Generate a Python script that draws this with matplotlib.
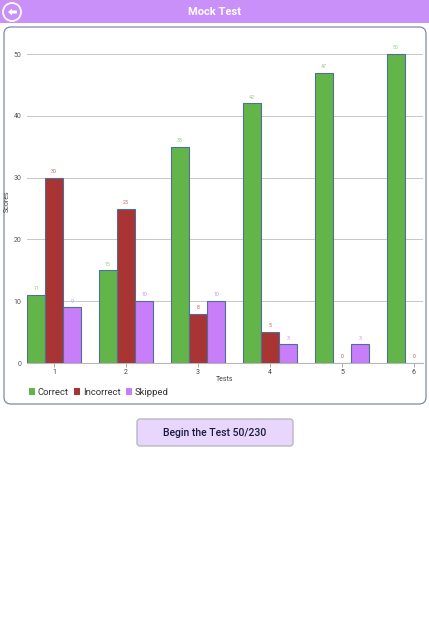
import matplotlib
matplotlib.use("Agg")
import matplotlib.pyplot as plt
from matplotlib.patches import FancyBboxPatch, Rectangle, Circle, FancyArrow
import numpy as np

plt.rcParams['font.family'] = ['Roboto', 'DejaVu Sans']

tests = ["1", "2", "3", "4", "5", "6"]
correct = [11, 15, 35, 42, 47, 50]
incorrect = [30, 25, 8, 5, 0, 0]
skipped = [9, 10, 10, 3, 3, 0]
series_names = ["Correct", "Incorrect", "Skipped"]
yticks = [0, 10, 20, 30, 40, 50]
title = "Mock Test"
button_text = "Begin the Test 50/230"

W, H = 429, 640
fig = plt.figure(figsize=(W / 100, H / 100), dpi=100)
fig.patch.set_facecolor("white")

ui = fig.add_axes([0, 0, 1, 1], zorder=0)
ui.set_xlim(0, W)
ui.set_ylim(H, 0)
ui.axis("off")

# header
ui.add_patch(Rectangle((0, 0), W, 23, facecolor="#c890f8", edgecolor="none"))
ui.text(W / 2, 12, title, color="white", fontsize=8, fontweight="bold",
        ha="center", va="center")
ui.add_patch(Circle((12, 12), 9, facecolor="none", edgecolor="white", lw=1.3))
ui.add_patch(FancyArrow(17, 12, -9, 0, width=3.0, head_width=7, head_length=4,
                        length_includes_head=True, facecolor="white", edgecolor="none"))

# card
ui.add_patch(FancyBboxPatch((4, 27), 422, 377, boxstyle="round,pad=0,rounding_size=7",
                            facecolor="white", edgecolor="#7d8aa6", lw=0.9))

# button
ui.add_patch(FancyBboxPatch((137, 419), 156, 27, boxstyle="round,pad=0,rounding_size=3",
                            facecolor="#e8d6fc", edgecolor="#b8b8c0", lw=1.0))
ui.text(215, 432.5, button_text, color="#1c1a40", fontsize=7.5, fontweight="medium",
        ha="center", va="center")

# chart axes
left, right = 27 / W, 423 / W
bottom, top = (H - 363) / H, (H - 40) / H
ax = fig.add_axes([left, bottom, right - left, top - bottom], zorder=2)
ax.set_facecolor("none")

x = np.arange(len(tests))
bw = 0.25
xmin, xmax = -0.375, 5.125
colors = ["#63b549", "#a83434", "#c77ef8"]
label_colors = ["#8ccf72", "#c86060", "#c790f8"]
data = [correct, incorrect, skipped]
for i, (vals, c, lc, name) in enumerate(zip(data, colors, label_colors, series_names)):
    pos = x + (i - 1) * bw
    ax.bar(pos, vals, width=bw, color=c, edgecolor="#4f6e9c", linewidth=0.8,
           label=name, zorder=3)
    for p, v in zip(pos, vals):
        if p + 0.05 > xmax:
            continue
        ax.text(p, v + 0.6, str(v), ha="center", va="bottom", fontsize=3.8,
                color=lc, zorder=4)

ax.set_xlim(xmin, xmax)
ax.set_ylim(0, 52.27)
ax.set_yticks(yticks)
ax.set_xticks(x)
ax.set_xticklabels(tests)
ax.grid(axis="y", color="#c8c8c8", lw=0.7, zorder=0)
for s in ["top", "right", "left"]:
    ax.spines[s].set_visible(False)
ax.spines["bottom"].set_color("#b8b8b8")
ax.spines["bottom"].set_linewidth(0.8)
ax.tick_params(axis="y", length=0, labelsize=5, labelcolor="#555555", pad=4)
ax.tick_params(axis="x", length=3, width=0.6, color="#999999", labelsize=5,
               labelcolor="#444444", pad=1.5)
ax.set_ylabel("Scores", fontsize=5, color="#444444", labelpad=0)
ax.yaxis.set_label_coords(-16 / 396, 0.5)
ax.set_xlabel("Tests", fontsize=5, color="#444444", labelpad=0)

leg = ax.legend(loc="upper left", bbox_to_anchor=(-0.005, -0.065), ncol=3, frameon=False,
                fontsize=6.8, handlelength=0.65, handleheight=0.65, handletextpad=0.3,
                columnspacing=0.55, borderaxespad=0)
for t in leg.get_texts():
    t.set_color("#333333")
for h in leg.legend_handles:
    h.set_edgecolor("none")

fig.savefig("out.png", dpi=100)
